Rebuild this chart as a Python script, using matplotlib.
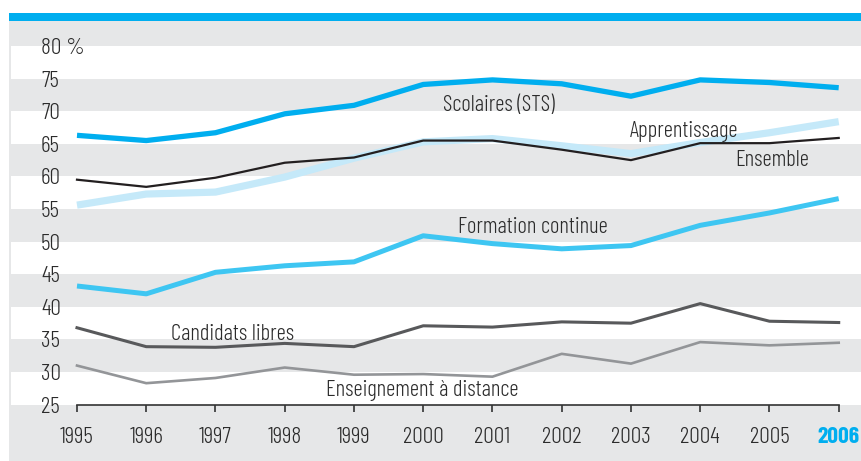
import matplotlib
matplotlib.use('Agg')
import matplotlib.pyplot as plt
from matplotlib.patches import Rectangle

years = list(range(1995, 2007))
scolaires = [66.3, 65.5, 66.7, 69.6, 70.9, 74.1, 74.8, 74.2, 72.3, 74.8, 74.4, 73.6]
apprentissage = [55.6, 57.3, 57.6, 59.9, 62.8, 65.3, 65.8, 64.7, 63.5, 65.2, 66.7, 68.4]
ensemble = [59.5, 58.4, 59.8, 62.1, 62.9, 65.5, 65.5, 64.1, 62.5, 65.1, 65.1, 65.9]
formation = [43.2, 42.0, 45.3, 46.3, 46.9, 50.9, 49.7, 48.9, 49.4, 52.5, 54.4, 56.6]
candidats = [36.8, 33.9, 33.8, 34.4, 33.9, 37.1, 36.9, 37.7, 37.5, 40.5, 37.8, 37.6]
distance = [31.0, 28.3, 29.1, 30.7, 29.6, 29.7, 29.3, 32.8, 31.3, 34.6, 34.1, 34.5]
yticks = list(range(25, 85, 5))
ylabels = [str(v) for v in yticks[:-1]] + ['80 %']

plt.rcParams['font.family'] = ['Barlow Condensed', 'DejaVu Sans']
plt.rcParams['font.weight'] = 300
txt = '#2b2b2b'
grey = '#e6e7e8'
blue = '#00aeef'

W, H = 861, 461
fig = plt.figure(figsize=(W / 100, H / 100), dpi=100)
fig.patch.set_facecolor('white')
fig.add_artist(Rectangle((9 / W, 0), 1, (H - 21) / H, transform=fig.transFigure,
                         facecolor=grey, edgecolor='none', zorder=-10))
fig.add_artist(Rectangle((9 / W, (H - 21) / H), 1, 8 / H, transform=fig.transFigure,
                         facecolor=blue, edgecolor='none', zorder=-10))

ax = fig.add_axes([11 / W, 0, 1 - 11 / W, (H - 21) / H])
ax.patch.set_alpha(0)
ax.set_xlim(1994.047, 2006.322)
ax.set_ylim(16.37, 83.83)

# bandes blanches
for lo in range(25, 80, 10):
    ax.axhspan(lo, lo + 5, color='white', lw=0, zorder=0)

ax.plot(years, apprentissage, color='#c5e9f9', lw=5.2, zorder=2, solid_capstyle='butt')
ax.plot(years, ensemble, color='#231f20', lw=1.6, zorder=3)
ax.plot(years, formation, color='#3ec6f2', lw=3.6, zorder=3, solid_capstyle='butt')
ax.plot(years, candidats, color='#58595b', lw=2.2, zorder=3)
ax.plot(years, distance, color='#939598', lw=1.9, zorder=3)
ax.plot(years, scolaires, color=blue, lw=3.8, zorder=4, solid_capstyle='butt')

fs = 16.5
ax.text(2001.09, 70.8, 'Scolaires (STS)', fontsize=fs, color=txt, ha='center', va='center')
ax.text(2003.77, 66.9, 'Apprentissage', fontsize=fs, color=txt, ha='center', va='center')
ax.text(2005.04, 62.5, 'Ensemble', fontsize=fs, color=txt, ha='center', va='center')
ax.text(2001.58, 52.1, 'Formation continue', fontsize=fs, color=txt, ha='center', va='center')
ax.text(1997.25, 35.7, 'Candidats libres', fontsize=fs, color=txt, ha='center', va='center')
ax.text(1999.99, 27.2, 'Enseignement à distance', fontsize=fs, color=txt, ha='center', va='center')

for s in ['top', 'right', 'left']:
    ax.spines[s].set_visible(False)
ax.spines['bottom'].set_position(('data', 25))
ax.spines['bottom'].set_bounds(1995, 2006)
ax.spines['bottom'].set_color('#333333')
ax.spines['bottom'].set_linewidth(1.2)

ax.set_xticks(years)
ax.set_xticklabels([str(y) for y in years])
ax.tick_params(axis='x', direction='out', length=5, width=1.2, color='#333333',
               pad=11, labelsize=17, labelcolor=txt)
lab = ax.get_xticklabels()[-1]
lab.set_color(blue)
lab.set_fontweight('bold')

ax.set_yticks(yticks)
ax.set_yticklabels(ylabels)
ax.tick_params(axis='y', length=0, pad=-21.6, labelsize=17, labelcolor=txt)
for t in ax.get_yticklabels():
    t.set_ha('left')

fig.savefig('out.png', dpi=100)
